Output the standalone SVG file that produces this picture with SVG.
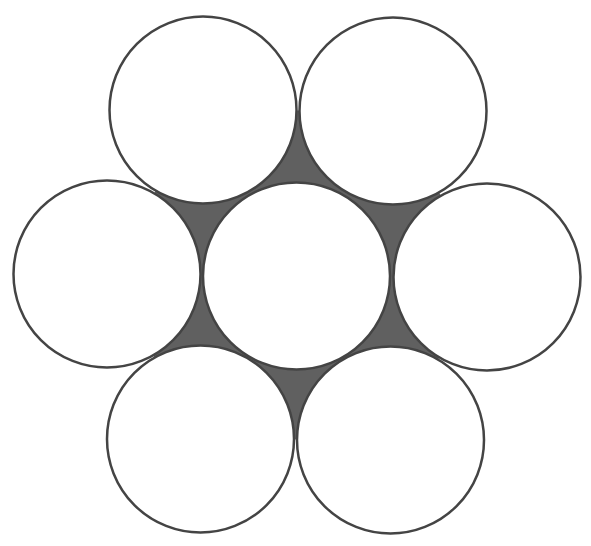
<svg xmlns="http://www.w3.org/2000/svg" width="591" height="546" viewBox="0 0 591 546">
<style>
.c{fill:#fff;stroke:#444;stroke-width:2.5}
.gap{fill:#606060;stroke:none}
</style>
<rect width="591" height="546" fill="#fff"/>
<polygon class="gap" points="203,110 393,111 487,277 390.5,440 200.5,439 107,274"/>
<g id="center"><circle class="c" cx="296.5" cy="276" r="93.5"/></g>
<g id="top-left"><circle class="c" cx="203" cy="110" r="93.5"/></g>
<g id="top-right"><circle class="c" cx="393" cy="111" r="93.5"/></g>
<g id="left"><circle class="c" cx="107" cy="274" r="93.5"/></g>
<g id="right"><circle class="c" cx="487" cy="277" r="93.5"/></g>
<g id="bottom-left"><circle class="c" cx="200.5" cy="439" r="93.5"/></g>
<g id="bottom-right"><circle class="c" cx="390.5" cy="440" r="93.5"/></g>
<g id="connectors"></g>
</svg>
